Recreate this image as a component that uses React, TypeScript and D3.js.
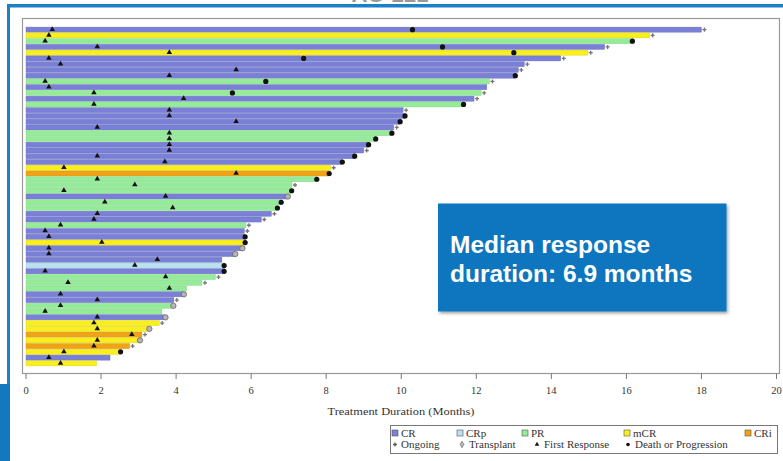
import React, { useEffect, useRef } from "react";
import * as d3 from "d3";

const W = 783;
const H = 461;

// Response category per patient (top to bottom)
const responses = [
  "CR", "mCR", "PR", "CR", "mCR", "CR", "CR", "CR", "CR", "PR",
  "CR", "PR", "CR", "PR", "CR", "CR", "CR", "CR", "PR", "PR",
  "CR", "CR", "CR", "CR", "mCR", "CRi", "PR", "PR", "PR", "CR",
  "PR", "PR", "CR", "CR", "PR", "CR", "CR", "mCR", "CR", "CR",
  "CR", "CRp", "CR", "PR", "PR", "PR", "CR", "CR", "PR", "PR",
  "CR", "mCR", "mCR", "CRi", "mCR", "CRi", "mCR", "CR", "mCR",
];
// Treatment duration (months)
const durations = [
  18.0, 16.62, 16.16, 15.42, 14.97, 14.25, 13.28, 13.12, 13.04, 12.35,
  12.28, 12.13, 11.94, 11.66, 10.05, 10.1, 9.97, 9.8, 9.75, 9.32,
  9.13, 9.0, 8.76, 8.43, 8.12, 8.08, 7.75, 7.09, 7.08, 6.95,
  6.8, 6.7, 6.54, 6.27, 5.86, 5.82, 5.84, 5.84, 5.74, 5.55,
  5.22, 5.28, 5.28, 5.05, 4.69, 4.28, 4.18, 3.94, 3.9, 3.62,
  3.69, 3.55, 3.26, 3.09, 3.01, 2.76, 2.52, 2.24, 1.88,
];
// Time of first response (months)
const firstResponse = [
  0.7, 0.61, 0.51, 1.9, 3.82, 0.61, 0.92, 5.6, 3.82, 0.51,
  0.61, 1.81, 4.2, 1.81, 3.82, 3.82, 5.6, 1.9, 3.82, 3.82,
  3.82, 3.82, 1.9, 3.7, 1.01, 5.6, 1.9, 2.9, 1.01, 3.72,
  2.1, 3.91, 1.9, 1.81, 0.92, 0.51, 0.61, 2.02, 0.61, 0.61,
  3.5, 2.9, 0.51, 3.72, 1.12, 3.82, 0.92, 1.9, 0.92, 0.51,
  1.9, 1.81, 1.9, 2.82, 1.9, 1.81, 1.01, 0.61, 0.92,
];
// Status at end of bar: O = ongoing, T = transplant, D = death or progression, "" = none
const endStatus = [
  "O", "O", "D", "O", "O", "O", "O", "O", "D", "O",
  "", "O", "O", "D", "O", "D", "D", "O", "D", "D",
  "D", "O", "D", "D", "O", "D", "D", "O", "D", "T",
  "D", "D", "O", "O", "O", "O", "D", "D", "T", "T",
  "", "D", "D", "O", "O", "", "T", "O", "T", "",
  "T", "O", "T", "O", "T", "O", "D", "", "",
];
// Additional death/progression marks inside bars: [row, month]
const extraEvents: [number, number][] = [
  [0, 10.3], [3, 11.1], [4, 13.0], [5, 7.4], [9, 6.39], [11, 5.5],
];

const xTicks = [0, 2, 4, 6, 8, 10, 12, 14, 16, 18, 20];
const categories = ["CR", "CRp", "PR", "mCR", "CRi"];
const catColors = ["#7a80d6", "#b9e3ef", "#95ec98", "#f8ef1c", "#f0a316"];

const serif = "'Liberation Serif', 'DejaVu Serif', serif";
const sans = "'Liberation Sans', Arial, sans-serif";

export default function App() {
  const ref = useRef<SVGSVGElement>(null);

  useEffect(() => {
    const svg = d3.select(ref.current);
    svg.selectAll("*").remove();

    const color = d3.scaleOrdinal<string, string>().domain(categories).range(catColors);
    const x = d3.scaleLinear().domain([0, 20]).range([26, 776.5]);
    const y = d3
      .scaleBand<number>()
      .domain(d3.range(responses.length))
      .range([27.1, 365.9])
      .paddingInner(0.12);

    const defs = svg.append("defs");
    const f = defs.append("filter").attr("id", "sh").attr("x", "-5%").attr("y", "-5%").attr("width", "115%").attr("height", "120%");
    f.append("feDropShadow").attr("dx", 1.5).attr("dy", 2).attr("stdDeviation", 1.5).attr("flood-color", "#000").attr("flood-opacity", 0.35);

    svg.append("rect").attr("width", W).attr("height", H).attr("fill", "#fff");

    // slide title (cut off at top in the reference)
    svg.append("text").attr("x", 390).attr("y", 2).attr("text-anchor", "middle")
      .attr("font-family", sans).attr("font-size", 22).attr("font-weight", "bold").attr("fill", "#999")
      .text("AG-221");

    // slide frame
    svg.append("rect").attr("x", 7).attr("y", 4).attr("width", W).attr("height", 3.5).attr("fill", "#1b80c6");
    svg.append("rect").attr("x", 7).attr("y", 4).attr("width", 3).attr("height", 385).attr("fill", "#1b80c6");
    svg.append("rect").attr("x", 0).attr("y", 384).attr("width", 10).attr("height", H - 384).attr("fill", "#1478bf");

    // plot frame
    svg.append("rect").attr("x", 22.5).attr("y", 18.5).attr("width", 757).attr("height", 355)
      .attr("fill", "#fff").attr("stroke", "#9a9a9a").attr("stroke-width", 1.2);

    const g = svg.append("g");
    // bars
    g.selectAll("rect.bar").data(responses).join("rect")
      .attr("class", "bar")
      .attr("x", x(0))
      .attr("y", (_, i) => y(i)!)
      .attr("width", (_, i) => x(durations[i]) - x(0))
      .attr("height", y.bandwidth())
      .attr("fill", (d) => color(d))
      .attr("stroke", (d) => d3.color(color(d))!.darker(0.4).formatHex())
      .attr("stroke-width", 0.4);

    const cy = (i: number) => y(i)! + y.bandwidth() / 2;

    // first response triangles
    g.selectAll("path.fr").data(firstResponse).join("path")
      .attr("class", "fr")
      .attr("d", d3.symbol(d3.symbolTriangle, 13)())
      .attr("transform", (d, i) => `translate(${x(d)},${cy(i) - 0.3})`)
      .attr("fill", "#111");

    // end markers
    endStatus.forEach((s, i) => {
      const px = x(durations[i]);
      if (s === "O") {
        g.append("path").attr("d", d3.symbol(d3.symbolCross, 9)())
          .attr("transform", `translate(${px + 3},${cy(i)})`).attr("fill", "#777");
      } else if (s === "D") {
        g.append("circle").attr("cx", px).attr("cy", cy(i)).attr("r", 2.6).attr("fill", "#111");
      } else if (s === "T") {
        g.append("circle").attr("cx", px + 1).attr("cy", cy(i)).attr("r", 2.7)
          .attr("fill", "#b5b5b5").attr("stroke", "#666").attr("stroke-width", 0.8);
      }
    });
    extraEvents.forEach(([r, m]) => {
      g.append("circle").attr("cx", x(m)).attr("cy", cy(r)).attr("r", 2.6).attr("fill", "#111");
    });

    // x axis ticks
    const ax = svg.append("g");
    ax.selectAll("line").data(xTicks).join("line")
      .attr("x1", (d) => x(d)).attr("x2", (d) => x(d)).attr("y1", 373.5).attr("y2", 379)
      .attr("stroke", "#777").attr("stroke-width", 1);
    ax.selectAll("text").data(xTicks).join("text")
      .attr("x", (d) => x(d)).attr("y", 394).attr("text-anchor", "middle")
      .attr("font-family", serif).attr("font-size", 10.5).attr("fill", "#333")
      .text((d) => String(d));
    svg.append("text").attr("x", 401).attr("y", 415).attr("text-anchor", "middle")
      .attr("font-family", serif).attr("font-size", 11).attr("fill", "#333")
      .attr("textLength", 147).attr("lengthAdjust", "spacingAndGlyphs")
      .text("Treatment Duration (Months)");

    // median box
    svg.append("rect").attr("x", 438).attr("y", 203.5).attr("width", 288.5).attr("height", 108)
      .attr("fill", "#0c76be").attr("filter", "url(#sh)");
    const mt = svg.append("text").attr("font-family", sans).attr("font-weight", "bold")
      .attr("font-size", 24.5).attr("fill", "#fff");
    mt.append("tspan").attr("x", 450).attr("y", 253).text("Median response");
    mt.append("tspan").attr("x", 450).attr("y", 281.5).text("duration: 6.9 months");

    // legend
    const lg = svg.append("g");
    lg.append("rect").attr("x", 390.5).attr("y", 425.5).attr("width", 387).attr("height", 28)
      .attr("fill", "#fff").attr("stroke", "#777").attr("stroke-width", 1);
    const legX = [392, 457, 522, 624, 745];
    categories.forEach((c, i) => {
      lg.append("rect").attr("x", legX[i]).attr("y", 430).attr("width", 6).attr("height", 6)
        .attr("fill", color(c)).attr("stroke", "#555").attr("stroke-width", 0.6);
      lg.append("text").attr("x", legX[i] + 9).attr("y", 437).attr("font-family", serif)
        .attr("font-size", 11).attr("fill", "#333").text(c);
    });
    const symY = 448;
    const fs = 11;
    lg.append("path").attr("d", d3.symbol(d3.symbolCross, 8)()).attr("transform", `translate(395,${symY - 3.5})`).attr("fill", "#555");
    lg.append("text").attr("x", 401).attr("y", symY).attr("font-family", serif).attr("font-size", fs).attr("fill", "#333").text("Ongoing");
    lg.append("path").attr("d", d3.symbol(d3.symbolDiamond, 12)()).attr("transform", `translate(462,${symY - 3.5})`)
      .attr("fill", "#bbb").attr("stroke", "#555").attr("stroke-width", 0.6);
    lg.append("text").attr("x", 469).attr("y", symY).attr("font-family", serif).attr("font-size", fs).attr("fill", "#333").text("Transplant");
    lg.append("path").attr("d", d3.symbol(d3.symbolTriangle, 9)()).attr("transform", `translate(537,${symY - 3.5})`).attr("fill", "#111");
    lg.append("text").attr("x", 544).attr("y", symY).attr("font-family", serif).attr("font-size", fs).attr("fill", "#333").text("First Response");
    lg.append("circle").attr("cx", 628).attr("cy", symY - 3.5).attr("r", 1.8).attr("fill", "#111");
    lg.append("text").attr("x", 635).attr("y", symY).attr("font-family", serif).attr("font-size", fs).attr("fill", "#333").text("Death or Progression");
  }, []);

  return (
    <svg
      ref={ref}
      width={W}
      height={H}
      style={{ position: "fixed", left: 0, top: 0, display: "block" }}
    />
  );
}
